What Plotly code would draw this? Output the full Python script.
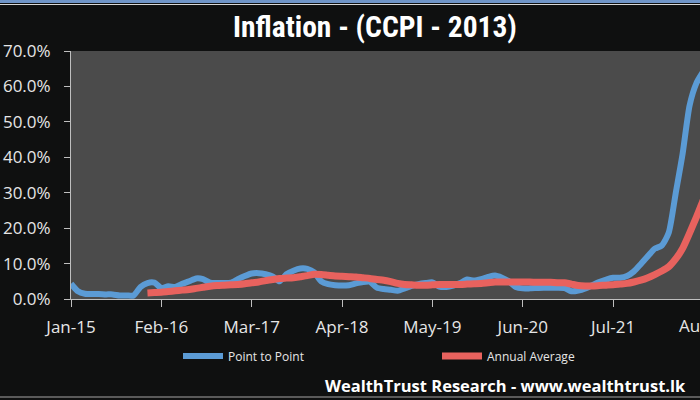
import pandas as pd
import plotly.graph_objects as go

# Categories: monthly Jan-15 .. Aug-22
months = [d.strftime("%b-%y") for d in pd.date_range("2015-01-01", "2022-08-01", freq="MS")]

# Point to Point (YoY) inflation, %
point_to_point = [
    4.3, 2.2, 1.5, 1.4, 1.4, 1.3, 1.3, 1.0, 1.0, 1.0, 3.4, 4.5,   # 2015
    4.6, 3.1, 3.6, 3.4, 4.3, 5.0, 5.8, 5.6, 4.6, 4.5, 4.5, 4.6,   # 2016
    5.6, 6.5, 7.2, 7.3, 7.0, 6.4, 5.0, 7.0, 8.0, 8.6, 8.5, 7.5,   # 2017
    5.0, 4.2, 3.9, 3.8, 3.9, 4.4, 4.8, 4.9, 3.2, 2.8, 2.6, 2.3,   # 2018
    3.0, 3.7, 4.2, 4.5, 4.7, 3.5, 3.4, 3.8, 4.5, 5.5, 5.2, 5.6,   # 2019
    6.2, 6.6, 6.0, 5.0, 3.4, 3.0, 3.0, 3.1, 3.2, 3.2, 3.2, 3.1,   # 2020
    2.2, 2.4, 3.0, 3.9, 4.8, 5.5, 6.0, 6.0, 6.5, 7.8, 9.9, 12.1,  # 2021
    14.2, 15.1, 18.7, 29.8, 41.0, 54.6, 61.0, 64.3,               # 2022
]

# Annual Average inflation, % (starts Dec-15)
annual_average = [None] * 11 + [
    1.7,                                                           # Dec-15
    1.8, 1.9, 2.1, 2.3, 2.5, 2.7, 3.0, 3.3, 3.6, 3.8, 3.9, 4.0,   # 2016
    4.1, 4.3, 4.6, 4.8, 5.2, 5.5, 5.8, 5.9, 6.0, 6.3, 6.6, 7.0,   # 2017
    6.9, 6.7, 6.5, 6.4, 6.3, 6.2, 6.0, 5.8, 5.5, 5.3, 4.9, 4.4,   # 2018
    4.1, 4.0, 3.9, 3.9, 4.0, 4.1, 4.1, 4.1, 4.1, 4.2, 4.3, 4.4,   # 2019
    4.6, 4.8, 4.8, 4.8, 4.8, 4.8, 4.8, 4.7, 4.7, 4.7, 4.6, 4.6,   # 2020
    4.2, 3.8, 3.7, 3.7, 3.8, 3.9, 4.0, 4.2, 4.4, 4.8, 5.3, 6.0,   # 2021
    6.9, 7.9, 9.1, 11.3, 14.3, 18.6, 23.2, 28.1,                  # 2022
]

x_tick_labels = ["Jan-15", "Feb-16", "Mar-17", "Apr-18", "May-19", "Jun-20", "Jul-21"]
cut_tick_label = "Aug-22"
y_tick_values = [0, 10, 20, 30, 40, 50, 60, 70]
y_tick_text = ["0.0%", "10.0%", "20.0%", "30.0%", "40.0%", "50.0%", "60.0%", "70.0%"]

BLUE = "#5B9BD5"
RED = "#E8625E"
BG = "#0F1010"
PLOT_BG = "#4B4B4B"
AXIS = "#BFBFBF"
TXT = "#E6E6E6"

fig = go.Figure()
fig.add_trace(go.Scatter(
    x=months, y=point_to_point, mode="lines", name="Point to Point",
    line=dict(color=BLUE, width=6, shape="spline", smoothing=0.6),
    legend="legend",
))
fig.add_trace(go.Scatter(
    x=months, y=annual_average, mode="lines", name="Annual Average",
    line=dict(color=RED, width=7, shape="spline", smoothing=0.6),
    legend="legend2",
))

x_end = 90.5
fig.update_layout(
    width=700, height=400,
    margin=dict(l=71, r=0, t=51, b=101),
    paper_bgcolor=BG, plot_bgcolor=PLOT_BG,
    title=dict(
        text="<b>Inflation - (CCPI - 2013)</b>",
        x=375 / 700, xanchor="center", xref="container",
        y=1 - 27 / 400, yanchor="middle", yref="container",
        font=dict(family="Liberation Sans Narrow, Roboto Condensed, Arial Narrow, sans-serif",
                  size=29.5, color="#FFFFFF"),
    ),
    xaxis=dict(
        type="category", range=[0, x_end],
        tickmode="array", tickvals=x_tick_labels, ticktext=x_tick_labels,
        showgrid=False, zeroline=False,
        showline=True, linecolor=AXIS, linewidth=1,
        ticks="outside", ticklen=7, tickcolor=AXIS, tickwidth=1,
        ticklabelstandoff=6,
        tickfont=dict(family="Open Sans", size=17, color=TXT),
    ),
    yaxis=dict(
        range=[0, 70], tickmode="array", tickvals=y_tick_values, ticktext=y_tick_text,
        showgrid=False, zeroline=False,
        showline=True, linecolor=AXIS, linewidth=1,
        ticks="outside", ticklen=6, tickcolor=AXIS, tickwidth=1,
        ticklabelstandoff=10,
        tickfont=dict(family="Open Sans", size=17, color=TXT),
    ),
    legend=dict(
        orientation="h", xref="container", yref="container",
        x=178 / 700, xanchor="left", y=1 - 356 / 400, yanchor="middle",
        bgcolor="rgba(0,0,0,0)", itemwidth=40,
        font=dict(family="Open Sans", size=12, color=TXT),
    ),
    legend2=dict(
        orientation="h", xref="container", yref="container",
        x=437 / 700, xanchor="left", y=1 - 356 / 400, yanchor="middle",
        bgcolor="rgba(0,0,0,0)", itemwidth=40,
        font=dict(family="Open Sans", size=12, color=TXT),
    ),
    showlegend=True,
)

# Cut-off last tick label at the right edge (beyond the visible range)
fig.add_annotation(
    x=(months.index(cut_tick_label) + 0.4) / x_end, xref="paper",
    y=(299 - 325) / 248, yref="paper", yanchor="middle", xanchor="center",
    text=cut_tick_label, showarrow=False,
    font=dict(family="Open Sans", size=17, color=TXT),
)

# Footer
fig.add_annotation(
    x=1 - 12 / 629, xref="paper", xanchor="right",
    y=(299 - 385) / 248, yref="paper", yanchor="middle",
    text="<b>WealthTrust Research - www.wealthtrust.lk</b>", showarrow=False,
    font=dict(family="Open Sans", size=16.5, color="#FFFFFF"),
)

# Thin decorative borders at top and bottom edges
fig.add_shape(type="rect", xref="paper", yref="paper",
              x0=-71 / 629, x1=1, y0=(299 - 3) / 248, y1=(299 - 0) / 248,
              fillcolor="#6F95C8", line_width=0, layer="above")
fig.add_shape(type="line", xref="paper", yref="paper",
              x0=-71 / 629, x1=1, y0=(299 - 4.5) / 248, y1=(299 - 4.5) / 248,
              line=dict(color="#D8D8D8", width=1))
fig.add_shape(type="line", xref="paper", yref="paper",
              x0=-71 / 629, x1=1, y0=(299 - 397) / 248, y1=(299 - 397) / 248,
              line=dict(color="#5A5A5A", width=2))

fig.write_html("out.html", config={"displayModeBar": False},
               post_script="document.body.style.margin='0';")
